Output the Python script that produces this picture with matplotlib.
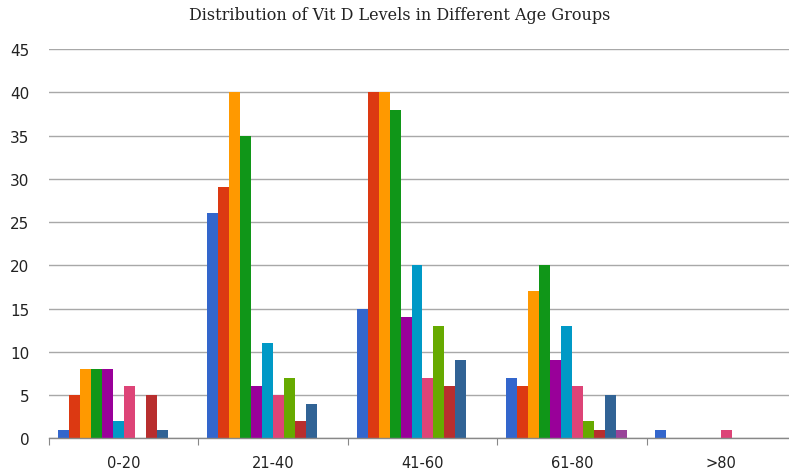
import numpy as np
import matplotlib
matplotlib.use("Agg")
import matplotlib.pyplot as plt
from matplotlib.ticker import FixedLocator, NullFormatter

# age groups on the x axis
groups = ["0-20", "21-40", "41-60", "61-80", ">80"]

# one row per series (12 series; last one has no visible bars)
s1 = [1, 26, 15, 7, 1]
s2 = [5, 29, 40, 6, 0]
s3 = [8, 40, 40, 17, 0]
s4 = [8, 35, 38, 20, 0]
s5 = [8, 6, 14, 9, 0]
s6 = [2, 11, 20, 13, 0]
s7 = [6, 5, 7, 6, 1]
s8 = [0, 7, 13, 2, 0]
s9 = [5, 2, 6, 1, 0]
s10 = [1, 4, 9, 5, 0]
s11 = [0, 0, 0, 1, 0]
s12 = [0, 0, 0, 0, 0]
series = [s1, s2, s3, s4, s5, s6, s7, s8, s9, s10, s11, s12]

colors = ["#3366CC", "#DC3912", "#FF9900", "#109618", "#990099", "#0099C6",
          "#DD4477", "#66AA00", "#B82E2E", "#316395", "#994499", "#22AA99"]

fig = plt.figure(figsize=(7.89, 4.77), dpi=100)
ax = fig.add_axes([49/789, 37.7/477, 747/789, 389.3/477])

n = len(series)
bw = 0.0736
start = (1 - n*bw)/2
x = np.arange(len(groups))
for i, vals in enumerate(series):
    ax.bar(x + start + i*bw, vals, width=bw, align="edge", color=colors[i],
           linewidth=0, zorder=3)

ax.set_xlim(0, len(groups))
ax.set_ylim(0, 45)
ax.set_yticks(np.arange(0, 46, 5))
ax.yaxis.grid(True, color="#a8a8a8", linewidth=1.0, zorder=0)
ax.tick_params(axis="y", length=0, pad=14, labelsize=11, labelcolor="#222222")

# ticks on the category borders, labels in the middle
ax.xaxis.set_major_locator(FixedLocator(np.arange(0, len(groups) + 1)))
ax.xaxis.set_major_formatter(NullFormatter())
ax.xaxis.set_minor_locator(FixedLocator(x + 0.5))
ax.set_xticklabels(groups, minor=True)
ax.tick_params(axis="x", which="major", length=5, direction="out", color="#888888")
ax.tick_params(axis="x", which="minor", length=0, pad=12, labelsize=10.5, labelcolor="#222222")

for side in ["left", "right", "top"]:
    ax.spines[side].set_visible(False)
ax.spines["bottom"].set_color("#888888")
ax.spines["bottom"].set_linewidth(1.0)
ax.spines["bottom"].set_zorder(4)

fig.text(400/789, 1 - 16/477, "Distribution of Vit D Levels in Different Age Groups",
         ha="center", va="center", fontsize=11.5, family="DejaVu Serif", color="#222222")

fig.savefig("out.png", dpi=100)
